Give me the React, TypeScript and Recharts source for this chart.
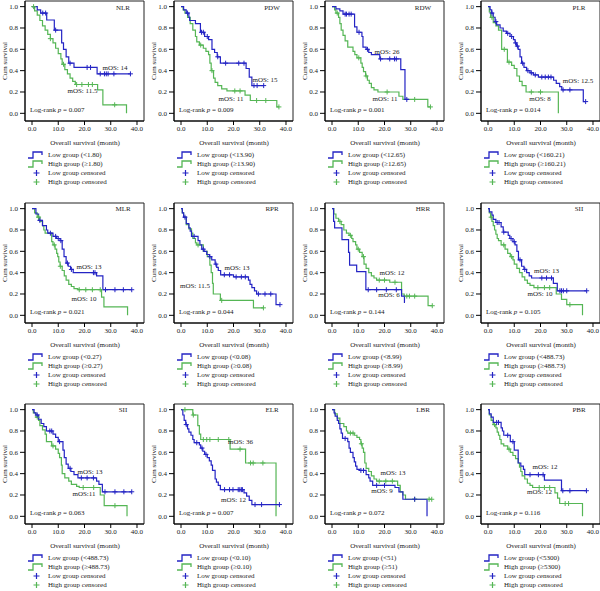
import React from 'react';
import { ComposedChart, Line, XAxis, YAxis, ReferenceArea } from 'recharts';

type Pt = [number, number];

// ---- survival steps [month, survival] and censored months, per panel ----
const nlrLow: Pt[] = [[0, 1], [2, 0.97], [3.3, 0.94], [5.6, 0.875], [8.5, 0.78], [11.3, 0.66], [12, 0.6], [13, 0.53], [14, 0.47], [16, 0.43], [24.8, 0.37], [37.5, 0.37]];
const nlrLowCens = [4.1, 5.2, 9, 14.5, 21, 22.3, 26, 27.6, 28.3, 29, 31.2, 37.5];
const nlrHigh: Pt[] = [[0, 1], [1, 0.96], [2, 0.92], [3, 0.87], [4, 0.82], [5, 0.78], [6, 0.74], [7, 0.7], [8, 0.66], [9, 0.61], [10, 0.56], [11, 0.51], [11.5, 0.46], [12.5, 0.41], [13.5, 0.37], [14.5, 0.33], [15.5, 0.3], [16.5, 0.27], [25, 0.22], [27, 0.08], [36, 0]];
const nlrHighCens = [0.6, 7, 12, 17, 19, 21.5, 23, 31.5];

const pdwLow: Pt[] = [[0, 1], [1, 0.97], [2, 0.94], [3, 0.9], [3.3, 0.87], [5.5, 0.84], [7.4, 0.76], [9, 0.72], [10.5, 0.69], [11.8, 0.6], [12.8, 0.57], [13.8, 0.53], [15, 0.47], [24.8, 0.42], [26, 0.34], [27, 0.26], [31.5, 0.26]];
const pdwLowCens = [2.5, 7.8, 8.5, 10, 14, 17, 22, 24, 27.8, 29, 31.5];
const pdwHigh: Pt[] = [[0, 1], [0.8, 0.97], [1.5, 0.94], [2.5, 0.9], [3.5, 0.84], [4.5, 0.78], [5.5, 0.72], [6, 0.67], [7, 0.64], [8.5, 0.61], [9.5, 0.58], [10.5, 0.55], [11, 0.47], [11.5, 0.4], [12.4, 0.33], [13, 0.29], [14, 0.26], [15.5, 0.23], [17.5, 0.21], [24.4, 0.17], [26.4, 0.12], [36.5, 0.06], [37.3, 0.06]];
const pdwHighCens = [7.5, 11.8, 20.5, 22.5, 28.8, 32.3, 37.3];

const rdwLow: Pt[] = [[0, 1], [1.5, 0.98], [3, 0.96], [4.2, 0.93], [8.6, 0.81], [9.5, 0.76], [11.4, 0.72], [11.8, 0.62], [13, 0.6], [14, 0.57], [15, 0.55], [18.2, 0.51], [26.2, 0.41], [27.8, 0.13], [29.3, 0.13]];
const rdwLowCens = [5, 5.5, 6.5, 7.3, 10.3, 13.5, 18.5, 22, 23.8, 24.5, 28.5];
const rdwHigh: Pt[] = [[0, 1], [1, 0.97], [1.5, 0.94], [2.5, 0.9], [3, 0.84], [3.5, 0.78], [4.2, 0.73], [5, 0.68], [6, 0.62], [8, 0.58], [8.7, 0.55], [9.5, 0.52], [11, 0.47], [11.5, 0.43], [12, 0.39], [12.8, 0.35], [13.5, 0.31], [14.2, 0.28], [15, 0.24], [16, 0.22], [17.5, 0.2], [25.5, 0.16], [27, 0.13], [36.5, 0.06], [37.5, 0.06]];
const rdwHighCens = [2, 10.2, 13, 21, 31.5, 37.5];

const plrLow: Pt[] = [[0, 1], [0.8, 0.97], [1.4, 0.94], [2, 0.9], [2.7, 0.86], [3.3, 0.83], [4.6, 0.8], [5.8, 0.77], [7, 0.75], [8.4, 0.72], [9.7, 0.69], [10.3, 0.66], [10.9, 0.63], [11.5, 0.6], [12.2, 0.53], [12.8, 0.47], [13.7, 0.43], [14.7, 0.4], [16, 0.38], [17.3, 0.36], [19.2, 0.34], [25, 0.31], [26, 0.28], [27.3, 0.25], [28.1, 0.22], [36.3, 0.11], [37.2, 0.11]];
const plrLowCens = [1.5, 3, 7.5, 9, 10.5, 11.2, 13.2, 15.2, 16.5, 18, 20.5, 21.8, 23, 24, 28.6, 31.2, 37.2];
const plrHigh: Pt[] = [[0, 1], [0.5, 0.95], [1, 0.9], [2, 0.85], [3, 0.82], [4, 0.78], [5.2, 0.6], [7.4, 0.48], [9, 0.45], [10, 0.42], [11, 0.35], [12, 0.3], [13, 0.26], [14.5, 0.2], [26.8, 0]];
const plrHighCens = [1.5, 6.2, 8, 16.5, 20];

const mlrLow: Pt[] = [[0, 1], [1.5, 0.95], [2.5, 0.89], [4, 0.84], [5.5, 0.8], [6, 0.77], [8, 0.74], [9.4, 0.72], [10.7, 0.7], [11.5, 0.62], [12.2, 0.55], [13, 0.49], [13.8, 0.46], [14.7, 0.43], [15.7, 0.4], [24.6, 0.37], [27, 0.24], [38, 0.24]];
const mlrLowCens = [3, 7, 9, 10, 11, 13.5, 15, 23.4, 24, 28, 31.6, 34.8, 38];
const mlrHigh: Pt[] = [[0, 1], [1, 0.96], [2, 0.92], [3, 0.88], [4, 0.84], [4.5, 0.8], [5, 0.77], [7.5, 0.69], [8, 0.66], [8.8, 0.62], [9.4, 0.58], [9.8, 0.55], [10.2, 0.5], [10.7, 0.46], [11.5, 0.42], [12.3, 0.37], [13, 0.33], [14, 0.29], [15, 0.27], [16, 0.25], [17.5, 0.24], [26.5, 0.17], [27.4, 0.08], [36.4, 0]];
const mlrHighCens = [2.5, 8.5, 10.8, 18, 20.5, 23, 26];

const rprLow: Pt[] = [[0, 1], [0.5, 0.96], [1, 0.92], [2, 0.86], [3, 0.82], [3.5, 0.79], [4, 0.74], [6.5, 0.7], [7.2, 0.66], [7.9, 0.62], [8.8, 0.6], [9.8, 0.57], [10.8, 0.55], [11.7, 0.52], [13, 0.48], [13.6, 0.45], [14.2, 0.42], [15.1, 0.38], [20, 0.36], [25.7, 0.33], [26.3, 0.29], [27, 0.26], [28, 0.23], [28.8, 0.2], [36.2, 0.1], [37.7, 0.1]];
const rprLowCens = [1.5, 5, 8.5, 11, 13.3, 16.5, 18.5, 21, 23, 24.5, 29.5, 32, 34.2, 37.7];
const rprHigh: Pt[] = [[0, 1], [0.5, 0.96], [1, 0.92], [2, 0.85], [3, 0.81], [4, 0.77], [4.5, 0.72], [5.5, 0.68], [6, 0.66], [8.5, 0.6], [10, 0.55], [11, 0.47], [11.5, 0.4], [12, 0.3], [12.3, 0.2], [15, 0.14], [27.6, 0.07], [31.4, 0.07]];
const rprHighCens = [6.5, 15.5, 31.4];

const hrrLow: Pt[] = [[0, 1], [0.6, 0.88], [1, 0.82], [3.8, 0.71], [6.3, 0.59], [6.7, 0.47], [9.4, 0.41], [12.9, 0.24], [26.5, 0.18], [27.6, 0.12], [27.8, 0.12]];
const hrrLowCens = [13.8, 17, 20.7, 24.5];
const hrrHigh: Pt[] = [[0, 1], [0.7, 0.95], [1.5, 0.91], [2.5, 0.88], [3.5, 0.85], [4.5, 0.8], [5.5, 0.77], [6.5, 0.75], [7.5, 0.72], [8, 0.69], [9, 0.66], [9.5, 0.62], [10.5, 0.59], [11.5, 0.55], [12.2, 0.48], [13, 0.44], [14, 0.4], [15, 0.37], [16, 0.35], [17, 0.33], [22, 0.31], [26.5, 0.2], [27.5, 0.18], [36.6, 0.09], [38.2, 0.09]];
const hrrHighCens = [3, 7, 10, 12, 18, 20, 24, 28.5, 29.5, 31.5, 38.2];

const siiLow: Pt[] = [[0, 1], [0.5, 0.97], [1.5, 0.94], [2, 0.9], [3, 0.87], [5, 0.83], [5.8, 0.78], [7.7, 0.75], [8.3, 0.72], [9.5, 0.69], [10.3, 0.66], [11, 0.6], [11.6, 0.52], [12.8, 0.46], [13.7, 0.43], [14.7, 0.4], [15.7, 0.37], [16.6, 0.35], [24.9, 0.3], [26.4, 0.23], [37.6, 0.23]];
const siiLowCens = [3.5, 4.2, 6, 8.8, 10, 12.2, 14, 20.5, 22.3, 24.2, 27.4, 28, 28.7, 30, 37.6];
const siiHigh: Pt[] = [[0, 1], [0.5, 0.96], [1, 0.92], [1.5, 0.88], [2, 0.84], [2.5, 0.8], [3, 0.76], [3.5, 0.72], [4, 0.7], [5, 0.66], [6.5, 0.62], [7.5, 0.58], [8.5, 0.55], [9.5, 0.52], [10, 0.48], [11, 0.44], [12, 0.4], [13, 0.36], [14, 0.33], [15, 0.3], [16, 0.28], [17.5, 0.26], [26, 0.2], [28, 0.15], [30, 0.1], [36, 0]];
const siiHighCens = [1.2, 6, 9, 19, 21.5, 23.5, 31.2];

const sii2Low: Pt[] = [[0, 1], [0.8, 0.97], [1.5, 0.95], [2.5, 0.91], [3.5, 0.87], [4.5, 0.84], [5.5, 0.8], [8, 0.77], [9, 0.74], [10, 0.7], [11.8, 0.62], [12.3, 0.55], [13, 0.49], [13.8, 0.45], [14.8, 0.42], [16, 0.39], [17.5, 0.36], [24.6, 0.33], [25.5, 0.3], [26.8, 0.23], [38, 0.23]];
const sii2LowCens = [2, 6.8, 7.5, 10.5, 14.5, 18.8, 21, 23.4, 27.8, 31.6, 35, 38];
const sii2High: Pt[] = [[0, 1], [0.5, 0.97], [1.5, 0.93], [2.5, 0.9], [3, 0.85], [4, 0.81], [5, 0.77], [5.5, 0.7], [7.5, 0.66], [9, 0.63], [10, 0.59], [10.5, 0.55], [11.2, 0.48], [11.5, 0.4], [12.5, 0.36], [14, 0.33], [15, 0.3], [17, 0.28], [18, 0.27], [26, 0.2], [27.5, 0.1], [36.2, 0]];
const sii2HighCens = [2, 8, 19.5, 23.5, 31.6];

const elrLow: Pt[] = [[0, 1], [0.7, 0.95], [1.2, 0.9], [1.8, 0.86], [2.5, 0.82], [3, 0.79], [3.8, 0.76], [4.5, 0.72], [5, 0.69], [7, 0.67], [7.5, 0.64], [8.3, 0.61], [9, 0.58], [10, 0.55], [10.8, 0.52], [11.5, 0.48], [12, 0.43], [13, 0.35], [13.5, 0.32], [14.2, 0.29], [15, 0.25], [24, 0.22], [25, 0.19], [26, 0.15], [27, 0.11], [37.5, 0.11]];
const elrLowCens = [2, 6, 8, 9.5, 16.6, 18.5, 19.8, 21.8, 22.4, 23, 23.4, 28.2, 30.7, 37.5];
const elrHigh: Pt[] = [[0, 1], [4.5, 0.95], [6.4, 0.85], [7, 0.77], [7.5, 0.72], [18.7, 0.63], [24.6, 0.5], [36.2, 0]];
const elrHighCens = [1.5, 4.7, 8.5, 9.8, 11, 14.2, 18.2, 22.5, 26.5, 27.5, 31.2];

const lbrLow: Pt[] = [[0, 1], [0.8, 0.97], [1.2, 0.94], [2, 0.9], [2.5, 0.87], [3, 0.82], [3.5, 0.78], [4, 0.73], [6, 0.7], [6.5, 0.64], [7, 0.6], [8, 0.55], [8.5, 0.51], [9, 0.47], [9.5, 0.44], [10.5, 0.43], [13, 0.39], [14, 0.36], [14.5, 0.33], [15.5, 0.29], [24, 0.27], [25.5, 0.23], [27, 0.16], [36.2, 0]];
const lbrLowCens = [5, 11, 12, 17, 20, 31.5];
const lbrHigh: Pt[] = [[0, 1], [1, 0.96], [2, 0.92], [3, 0.87], [4.5, 0.84], [5.5, 0.8], [6, 0.78], [8.5, 0.76], [9.5, 0.74], [10.5, 0.72], [11, 0.68], [11.5, 0.64], [12, 0.6], [12.5, 0.5], [13, 0.45], [14, 0.42], [15, 0.38], [16, 0.35], [17, 0.33], [25, 0.29], [26, 0.23], [27, 0.2], [28, 0.16], [38, 0.16]];
const lbrHighCens = [7, 8, 11.2, 18, 20.5, 23, 31.5, 37, 38];

const pbrLow: Pt[] = [[0, 1], [0.5, 0.96], [1.2, 0.93], [2, 0.88], [5, 0.83], [5.5, 0.8], [6, 0.76], [8.5, 0.7], [10, 0.62], [11.5, 0.5], [12.5, 0.47], [13.5, 0.44], [14, 0.39], [21.5, 0.34], [28, 0.24], [37.5, 0.24]];
const pbrLowCens = [3.3, 4, 7.5, 9.5, 16, 19.2, 21, 28.5, 31.2, 37.5];
const pbrHigh: Pt[] = [[0, 1], [0.5, 0.95], [1.2, 0.9], [2, 0.86], [3, 0.83], [3.5, 0.79], [4, 0.76], [4.5, 0.72], [5, 0.68], [6, 0.66], [7.5, 0.63], [8.5, 0.6], [9.5, 0.57], [10.5, 0.54], [11.5, 0.5], [12, 0.46], [12.5, 0.42], [13, 0.38], [14, 0.35], [15, 0.31], [16, 0.29], [17, 0.27], [25.5, 0.22], [26.5, 0.17], [27.3, 0.12], [36, 0]];
const pbrHighCens = [2.5, 8, 19.5, 21.5, 23.5, 29.4, 30.7];

// ---- panel labels ----
const panelNames = ['NLR', 'PDW', 'RDW', 'PLR', 'MLR', 'RPR', 'HRR', 'SII', 'SII', 'ELR', 'LBR', 'PBR'];
const cutoffs = ['1.80', '13.90', '12.65', '160.21', '0.27', '0.08', '8.99', '488.73', '488.73', '0.10', '51', '5300'];
const pValues = ['0.007', '0.009', '0.001', '0.014', '0.021', '0.044', '0.144', '0.105', '0.063', '0.007', '0.072', '0.116'];
const mosUpper = ['mOS: 14', 'mOS: 15', 'mOS: 26', 'mOS: 12.5', 'mOS: 13', 'mOS: 13', 'mOS: 12', 'mOS: 13', 'mOS: 13', 'mOS: 36', 'mOS: 13', 'mOS: 12'];
const mosLower = ['mOS: 11.5', 'mOS: 11', 'mOS: 11', 'mOS: 8', 'mOS: 10', 'mOS: 11.5', 'mOS: 6', 'mOS: 10', 'mOS:11', 'mOS: 12', 'mOS: 9', 'mOS: 12'];
const xTicks = [0, 10, 20, 30, 40];
const yTicks = [0, 0.2, 0.4, 0.6, 0.8, 1.0];

const lowSeries = [nlrLow, pdwLow, rdwLow, plrLow, mlrLow, rprLow, hrrLow, siiLow, sii2Low, elrLow, lbrLow, pbrLow];
const lowCens = [nlrLowCens, pdwLowCens, rdwLowCens, plrLowCens, mlrLowCens, rprLowCens, hrrLowCens, siiLowCens, sii2LowCens, elrLowCens, lbrLowCens, pbrLowCens];
const highSeries = [nlrHigh, pdwHigh, rdwHigh, plrHigh, mlrHigh, rprHigh, hrrHigh, siiHigh, sii2High, elrHigh, lbrHigh, pbrHigh];
const highCens = [nlrHighCens, pdwHighCens, rdwHighCens, plrHighCens, mlrHighCens, rprHighCens, hrrHighCens, siiHighCens, sii2HighCens, elrHighCens, lbrHighCens, pbrHighCens];

// ---- layout ----
const COL_LEFT = [0, 149, 300, 456];
const ROW_TOP = [0, 201.6, 402.6];
const MOS_UPPER_POS = [[115, 68], [116, 80], [87, 52], [122, 81], [89, 65], [88, 66], [92, 71], [90.5, 69], [90, 69], [91.5, 39], [93, 70], [89, 64]];
const MOS_LOWER_POS = [[82.5, 91], [82, 99], [85, 99], [84, 99], [84, 97], [46, 84], [89, 93], [84, 92], [84, 91], [84.5, 97], [82, 88], [83.5, 89]];
const X_DOMAIN: [number, number] = [-2.667, 42.667];
const Y_DOMAIN: [number, number] = [-0.072, 1.053];
const BLUE = '#2424c4';
const GREEN = '#55b655';
const FONT = '"Liberation Serif", "DejaVu Serif", serif';
const TEXT = '#1a1a1a';

type CurvePoint = { t: number; s: number; c: boolean };

function buildCurve(steps: Pt[], cens: number[]): CurvePoint[] {
  const pts: CurvePoint[] = steps.map(([t, s]) => ({ t, s, c: false }));
  cens.forEach((ct) => {
    let s = steps[0][1];
    for (const [t, v] of steps) if (t <= ct) s = v;
    pts.push({ t: ct, s, c: true });
  });
  pts.sort((a, b) => a.t - b.t || (a.c ? 1 : 0) - (b.c ? 1 : 0));
  return pts;
}

const censorDot = (color: string) => (props: any) => {
  const { cx, cy, payload, index } = props;
  if (!payload || !payload.c || cx == null || cy == null) return <g key={`n${index}`} />;
  return (
    <path
      key={`c${index}`}
      d={`M${cx - 2.5},${cy}H${cx + 2.5}M${cx},${cy - 2.5}V${cy + 2.5}`}
      stroke={color}
      strokeWidth={1}
      fill="none"
    />
  );
};

const Txt = ({ x, y, children, anchor = 'center', style }: any) => (
  <div
    style={{
      position: 'absolute',
      left: x,
      top: y,
      transform: anchor === 'center' ? 'translate(-50%, -50%)' : 'translate(0, -50%)',
      whiteSpace: 'nowrap',
      fontSize: 7,
      lineHeight: 1,
      color: TEXT,
      ...style,
    }}>
    {children}
  </div>
);

const StepIcon = ({ color }: { color: string }) => (
  <svg width={16} height={8} style={{ position: 'absolute', left: 28, top: -4 }}>
    <path d="M0,7H5V1H14V4" stroke={color} strokeWidth={1.3} fill="none" />
  </svg>
);

const PlusIcon = ({ color }: { color: string }) => (
  <svg width={8} height={8} style={{ position: 'absolute', left: 33, top: -4 }}>
    <path d="M0.5,4H6.5M3.5,1V7" stroke={color} strokeWidth={1.2} fill="none" />
  </svg>
);

function KMPanel({ i }: { i: number }) {
  const low = buildCurve(lowSeries[i], lowCens[i]);
  const high = buildCurve(highSeries[i], highCens[i]);
  const left = COL_LEFT[i % 4];
  const top = ROW_TOP[Math.floor(i / 4)];
  const legendRows = [
    { y: 155, icon: <StepIcon color={BLUE} />, text: `Low group (<${cutoffs[i]})` },
    { y: 164, icon: <StepIcon color={GREEN} />, text: `High group (≥${cutoffs[i]})` },
    { y: 173, icon: <PlusIcon color={BLUE} />, text: 'Low group censored' },
    { y: 182, icon: <PlusIcon color={GREEN} />, text: 'High group censored' },
  ];
  return (
    <div style={{ position: 'absolute', left, top, width: 150, height: 195 }}>
      <ComposedChart width={150} height={136} margin={{ top: 1, right: 6, bottom: 0, left: 0 }}>
        <XAxis
          type="number"
          dataKey="t"
          domain={X_DOMAIN}
          ticks={xTicks}
          allowDataOverflow
          tickFormatter={(v: number) => v.toFixed(1)}
          tickSize={4}
          tickMargin={1}
          height={15}
          stroke="#000"
          tick={{ fontSize: 7, fill: TEXT, fontFamily: FONT }}
        />
        <YAxis
          type="number"
          dataKey="s"
          domain={Y_DOMAIN}
          ticks={yTicks}
          allowDataOverflow
          tickFormatter={(v: number) => v.toFixed(1)}
          tickSize={5}
          tickMargin={2}
          width={25}
          stroke="#000"
          tick={{ fontSize: 7, fill: TEXT, fontFamily: FONT }}
        />
        <ReferenceArea
          x1={X_DOMAIN[0]}
          x2={X_DOMAIN[1]}
          y1={Y_DOMAIN[0]}
          y2={Y_DOMAIN[1]}
          fill="none"
          stroke="#222"
          strokeWidth={1}
          ifOverflow="visible"
        />
        <Line
          data={high}
          dataKey="s"
          type="stepAfter"
          stroke={GREEN}
          strokeWidth={1.2}
          dot={censorDot(GREEN)}
          activeDot={false}
          isAnimationActive={false}
        />
        <Line
          data={low}
          dataKey="s"
          type="stepAfter"
          stroke={BLUE}
          strokeWidth={1.2}
          dot={censorDot(BLUE)}
          activeDot={false}
          isAnimationActive={false}
        />
      </ComposedChart>
      <Txt x={123} y={7.5}>{panelNames[i]}</Txt>
      <Txt x={MOS_UPPER_POS[i][0]} y={MOS_UPPER_POS[i][1]}>{mosUpper[i]}</Txt>
      <Txt x={MOS_LOWER_POS[i][0]} y={MOS_LOWER_POS[i][1]}>{mosLower[i]}</Txt>
      <Txt x={30} y={110} anchor="left">
        Log-rank <i>p</i> = {pValues[i]}
      </Txt>
      <Txt x={5} y={61} style={{ transform: 'translate(-50%, -50%) rotate(-90deg)' }}>
        Cum survival
      </Txt>
      <Txt x={85} y={143}>Overall survival (month)</Txt>
      {legendRows.map((r) => (
        <div key={r.text} style={{ position: 'absolute', left: 0, top: r.y, width: 150 }}>
          {r.icon}
          <Txt x={48} y={0} anchor="left">{r.text}</Txt>
        </div>
      ))}
    </div>
  );
}

export default function App() {
  return (
    <div
      style={{
        position: 'fixed',
        left: 0,
        top: 0,
        width: 600,
        height: 591,
        background: '#fff',
        fontFamily: FONT,
        overflow: 'hidden',
      }}>
      {panelNames.map((_, i) => (
        <KMPanel key={i} i={i} />
      ))}
    </div>
  );
}
